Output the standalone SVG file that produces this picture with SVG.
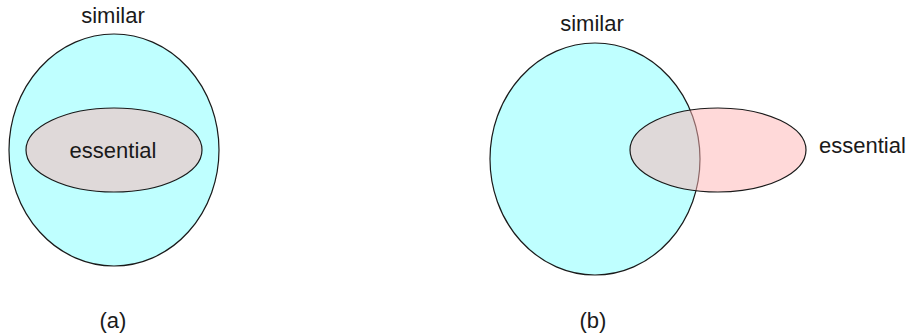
<svg xmlns="http://www.w3.org/2000/svg" width="909" height="334" viewBox="0 0 909 334">
  <style>
    .similar { fill: #bfffff; stroke: #1a1a1a; stroke-width: 1.2; }
    .essential { fill: #ffb3b3; fill-opacity: 0.5; stroke: #1a1a1a; stroke-width: 1.2; }
    text { font-family: "Liberation Sans", Arial, sans-serif; font-size: 22px; fill: #1a1a1a; }
    .mid { text-anchor: middle; }
  </style>
  <rect width="909" height="334" fill="#ffffff"/>

  <!-- (a): essential contained in similar -->
  <g id="a-similar">
    <ellipse class="similar" cx="114" cy="150" rx="105" ry="116"/>
    <text class="mid" x="113" y="23">similar</text>
  </g>
  <g id="a-essential">
    <ellipse class="essential" cx="114" cy="150" rx="88" ry="42"/>
    <text class="mid" x="113" y="158">essential</text>
  </g>
  <text id="a-caption" class="mid" x="113" y="328">(a)</text>

  <!-- (b): essential partly overlapping similar -->
  <g id="b-similar">
    <ellipse class="similar" cx="595" cy="159" rx="105" ry="116"/>
    <text class="mid" x="592" y="31">similar</text>
  </g>
  <g id="b-essential">
    <ellipse class="essential" cx="718" cy="150" rx="88" ry="42"/>
    <text x="819" y="153">essential</text>
  </g>
  <text id="b-caption" class="mid" x="593" y="328">(b)</text>

  <g id="connectors"/>
</svg>
